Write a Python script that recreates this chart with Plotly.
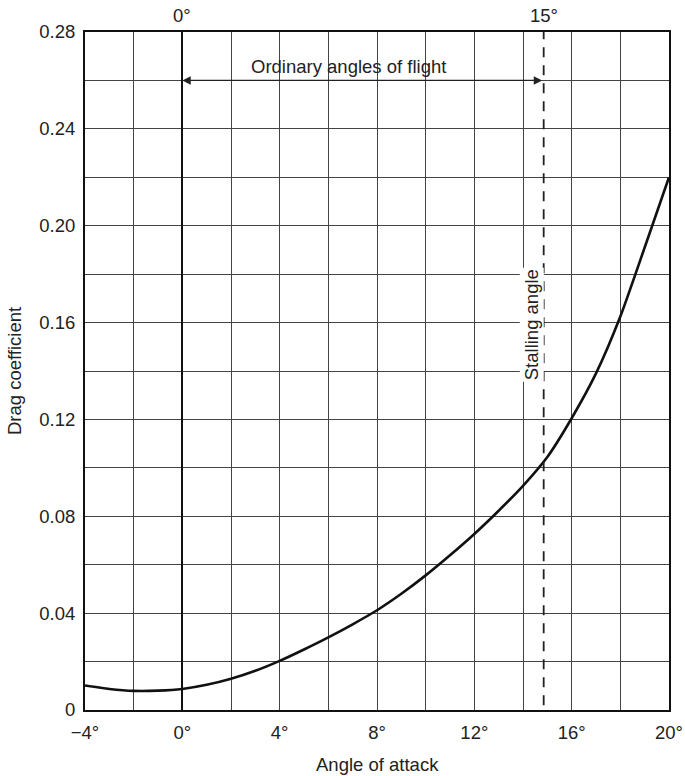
import plotly.graph_objects as go

# Drag coefficient vs angle of attack
angle = [-4, -3, -2, -1, 0, 1, 2, 3, 4, 5, 6, 7, 8, 9, 10, 11, 12, 13, 14, 15,
         16, 17, 18, 19, 20]
drag = [0.0101, 0.0087, 0.0079, 0.0080, 0.0087, 0.0104, 0.0129, 0.0162, 0.0203, 0.0250,
        0.0300, 0.0354, 0.0412, 0.0480, 0.0556, 0.0639, 0.0727, 0.0823, 0.0926, 0.1045,
        0.1205, 0.1390, 0.1625, 0.1910, 0.2200]

x_tickvals = [-4, 0, 4, 8, 12, 16, 20]
x_ticktext = ["\u22124\u00b0", "0\u00b0", "4\u00b0", "8\u00b0", "12\u00b0", "16\u00b0", "20\u00b0"]
y_tickvals = [0, 0.04, 0.08, 0.12, 0.16, 0.20, 0.24, 0.28]
y_ticktext = ["0", "0.04", "0.08", "0.12", "0.16", "0.20", "0.24", "0.28"]

stall_angle = 14.85
flight_range = [0, stall_angle]
flight_level = 0.26
top_labels = [(0, "0\u00b0"), (stall_angle, "15\u00b0")]

FONT = "Liberation Sans, Arial, Helvetica, sans-serif"
TXT = "#222222"
GRID = "#444444"
FS = 18.5

fig = go.Figure()
fig.add_trace(go.Scatter(
    x=angle, y=drag, mode="lines",
    line=dict(color="#111111", width=2.6, shape="spline", smoothing=0.6),
    hoverinfo="skip", showlegend=False,
))

# stalling angle dashed line
fig.add_shape(type="line", x0=stall_angle, x1=stall_angle, y0=0.002, y1=0.28,
              xref="x", yref="y", line=dict(color="#222222", width=1.8, dash="10px,8px"))

# double-headed arrow for ordinary angles of flight
fig.add_annotation(x=flight_range[0], y=flight_level, ax=flight_range[1], ay=flight_level,
                   xref="x", yref="y", axref="x", ayref="y", text="", showarrow=True,
                   arrowhead=2, arrowside="end+start", arrowsize=1.4, arrowwidth=1.2,
                   arrowcolor="#222222", standoff=0, startstandoff=0)
fig.add_annotation(x=6.81, y=0.2657, xref="x", yref="y", text="Ordinary angles of flight",
                   showarrow=False, font=dict(family=FONT, size=FS, color=TXT),
                   xanchor="center", yanchor="middle")
fig.add_annotation(x=14.38, y=0.159, xref="x", yref="y", text="Stalling angle",
                   textangle=-90, showarrow=False,
                   font=dict(family=FONT, size=FS, color=TXT),
                   xanchor="center", yanchor="middle", bgcolor="white")

for xv, lab in top_labels:
    fig.add_annotation(x=xv, y=1, xref="x", yref="paper", yshift=17, text=lab,
                       showarrow=False, font=dict(family=FONT, size=FS, color=TXT),
                       xanchor="center", yanchor="middle")

# axis titles
fig.add_annotation(x=0.5, y=0, xref="paper", yref="paper", yshift=-54,
                   text="Angle of attack", showarrow=False,
                   font=dict(family=FONT, size=FS, color=TXT), xanchor="center", yanchor="middle")
fig.add_annotation(x=0, y=0.5, xref="paper", yref="paper", xshift=-71,
                   text="Drag coefficient", textangle=-90, showarrow=False,
                   font=dict(family=FONT, size=FS, color=TXT), xanchor="center", yanchor="middle")

fig.update_xaxes(
    range=[-4, 20], tickvals=x_tickvals, ticktext=x_ticktext, ticks="",
    ticklabelstandoff=5, automargin=False,
    showgrid=True, gridcolor=GRID, gridwidth=1,
    minor=dict(dtick=2, tick0=0, showgrid=True, gridcolor=GRID, gridwidth=1, ticks=""),
    zeroline=True, zerolinecolor="#111111", zerolinewidth=2,
    showline=True, linecolor="#111111", linewidth=2, mirror=True,
    tickfont=dict(family=FONT, size=FS, color=TXT), fixedrange=True,
)
fig.update_yaxes(
    range=[0, 0.28], tickvals=y_tickvals, ticktext=y_ticktext, ticks="",
    ticklabelstandoff=4, automargin=False,
    showgrid=True, gridcolor=GRID, gridwidth=1,
    minor=dict(dtick=0.02, tick0=0, showgrid=True, gridcolor=GRID, gridwidth=1, ticks=""),
    zeroline=False,
    showline=True, linecolor="#111111", linewidth=2, mirror=True,
    tickfont=dict(family=FONT, size=FS, color=TXT), fixedrange=True,
)

fig.update_layout(
    width=685, height=776,
    margin=dict(l=85, r=16, t=32, b=66, pad=0),
    plot_bgcolor="white", paper_bgcolor="white",
    font=dict(family=FONT, size=FS, color=TXT),
    showlegend=False,
)

fig.write_html(
    "out.html",
    config={"displayModeBar": False, "responsive": False},
    post_script="document.body.style.margin='0';document.body.style.overflow='hidden';",
)
